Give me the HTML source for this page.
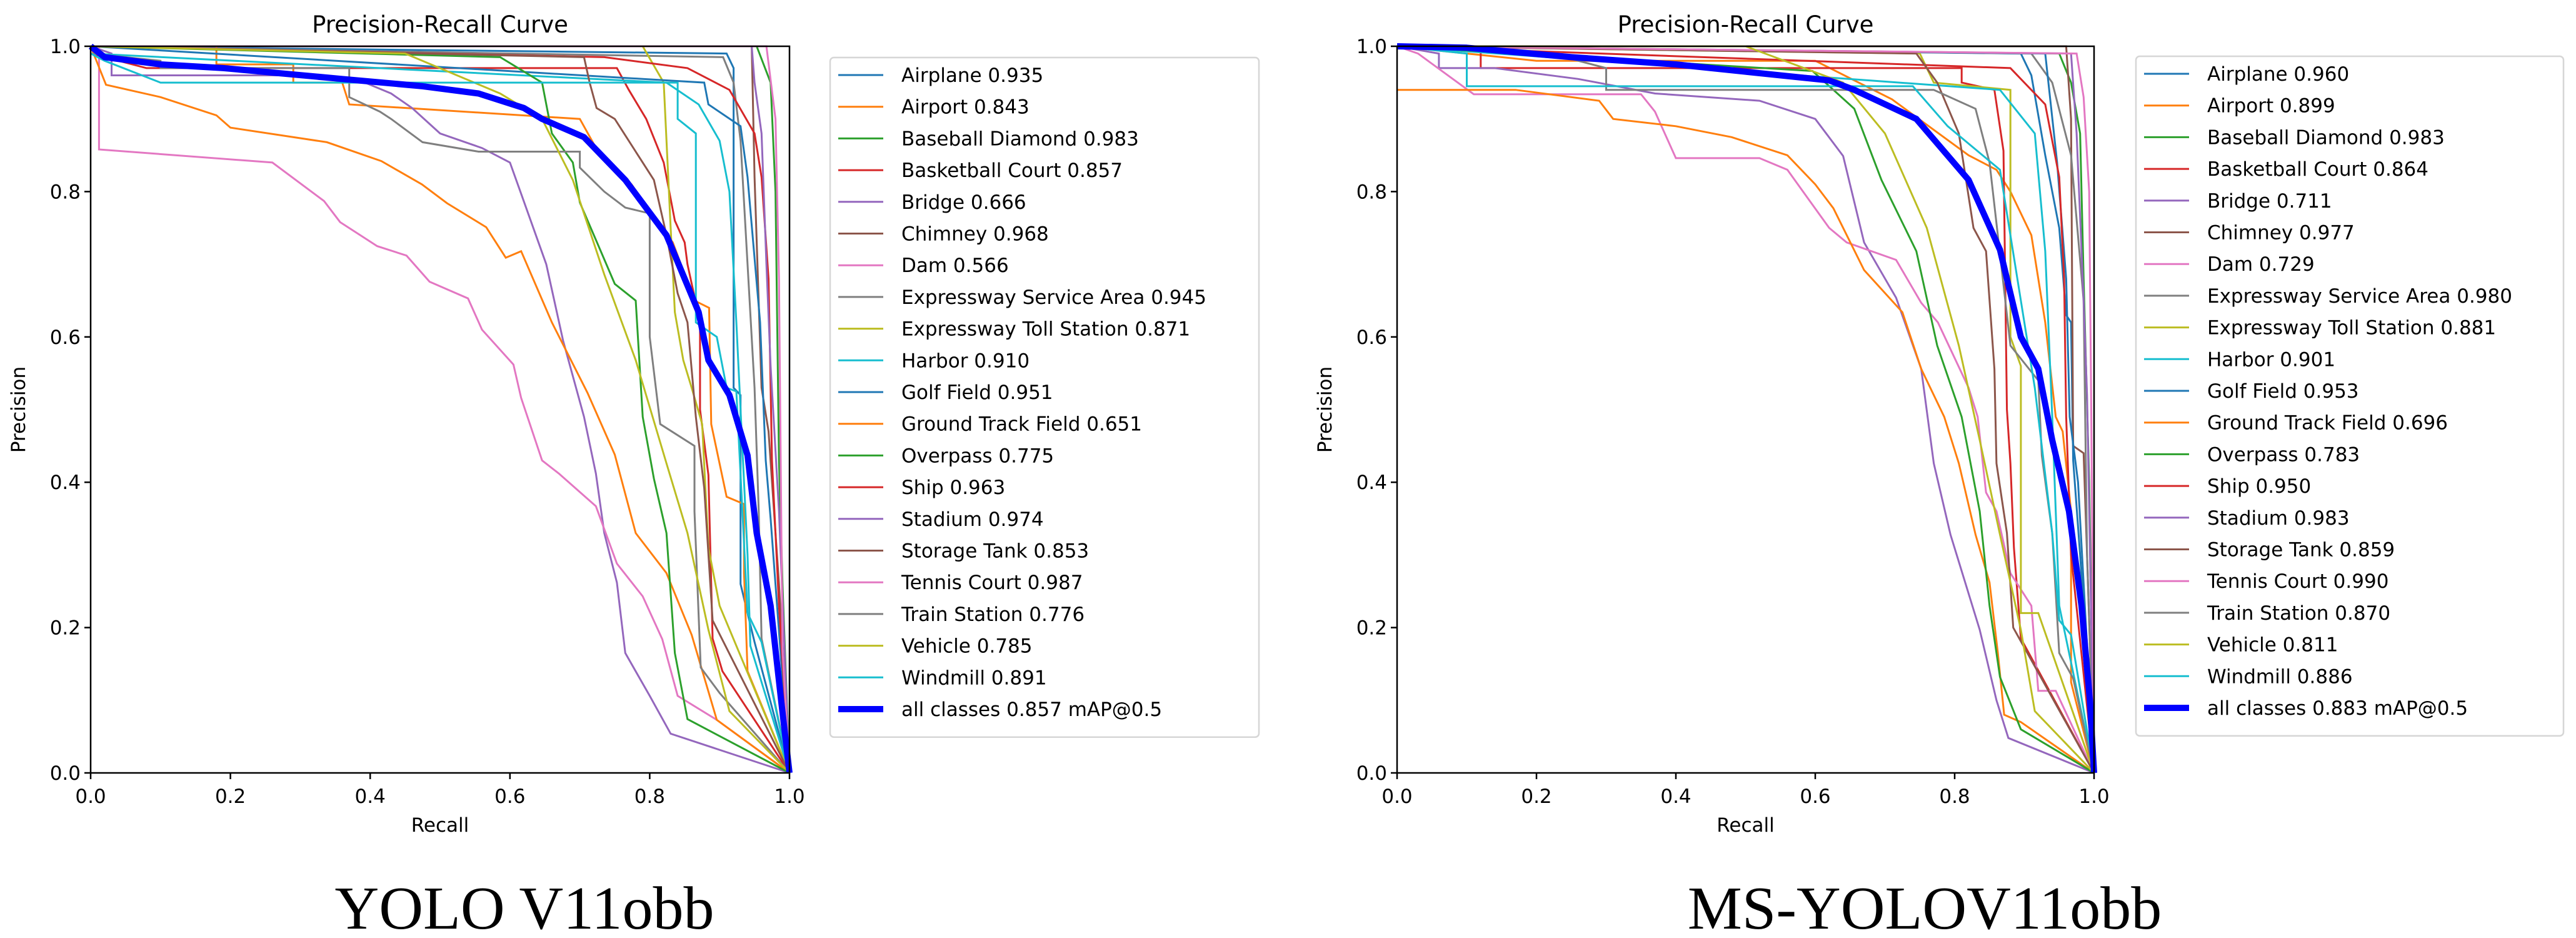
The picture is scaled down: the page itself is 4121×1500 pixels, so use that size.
<!DOCTYPE html>
<html><head><meta charset="utf-8"><style>
html,body{margin:0;padding:0;background:#fff}
svg{display:block}
text{font-family:"DejaVu Sans","Liberation Sans",sans-serif;fill:#000}
.cap{font-family:"Liberation Serif","DejaVu Serif",serif}
</style></head><body>
<svg id="fig" width="4121" height="1500" viewBox="0 0 4121 1500">
<rect width="4121" height="1500" fill="#fff"/>
<text class="cap" x="839" y="1485" font-size="98" text-anchor="middle">YOLO V11obb</text>
<text class="cap" x="3079" y="1485" font-size="98" text-anchor="middle">MS-YOLOV11obb</text>
</svg>
<script>
const names = ["Airplane","Airport","Baseball Diamond","Basketball Court","Bridge","Chimney","Dam","Expressway Service Area","Expressway Toll Station","Harbor","Golf Field","Ground Track Field","Overpass","Ship","Stadium","Storage Tank","Tennis Court","Train Station","Vehicle","Windmill"];
const colors = ["#1f77b4","#ff7f0e","#2ca02c","#d62728","#9467bd","#8c564b","#e377c2","#7f7f7f","#bcbd22","#17becf"];
const xTicks = ["0.0","0.2","0.4","0.6","0.8","1.0"];
const yTicks = ["0.0","0.2","0.4","0.6","0.8","1.0"];

const leftAP = [0.935,0.843,0.983,0.857,0.666,0.968,0.566,0.945,0.871,0.910,0.951,0.651,0.775,0.963,0.974,0.853,0.987,0.776,0.785,0.891];
const leftMAP = 0.857;
const rightAP = [0.960,0.899,0.983,0.864,0.711,0.977,0.729,0.980,0.881,0.901,0.953,0.696,0.783,0.950,0.983,0.859,0.990,0.870,0.811,0.886];
const rightMAP = 0.883;

// Left chart curves: recall knots / precision knots
const leftR = [
[0,0.91,0.92,0.92,0.93,0.93,0.95,1],
[0,0.18,0.18,0.29,0.29,0.36,0.37,0.7,0.726,0.774,0.81,0.833,0.864,0.885,0.888,0.91,0.935,0.935,0.94,1],
[0,0.953,0.973,0.98,0.985,0.99,1],
[0,0.08,0.753,0.77,0.795,0.82,0.836,0.85,0.854,0.872,0.872,0.884,0.89,0.904,1],
[0,0.03,0.03,0.29,0.38,0.43,0.46,0.5,0.56,0.6,0.616,0.652,0.676,0.706,0.723,0.735,0.753,0.765,0.8,0.83,1],
[0,0.946,0.95,0.96,0.97,0.985,1],
[0,0.012,0.012,0.26,0.334,0.357,0.41,0.452,0.485,0.54,0.56,0.605,0.616,0.646,0.67,0.723,0.753,0.79,0.818,0.84,0.896,1],
[0,0.905,0.92,0.93,0.94,0.95,0.956,0.96,1],
[0,0.79,0.82,0.83,0.836,0.848,0.86,0.875,0.884,0.9,1],
[0,0.824,0.87,0.9,0.914,0.924,0.94,0.944,1],
[0,0.878,0.884,0.93,0.94,0.958,0.966,0.973,1],
[0,0.022,0.1,0.18,0.2,0.338,0.416,0.474,0.51,0.566,0.594,0.616,0.66,0.711,0.75,0.78,0.824,0.86,0.896,1],
[0,0.586,0.646,0.66,0.69,0.7,0.73,0.75,0.78,0.79,0.806,0.824,0.836,0.854,1],
[0,0.735,0.854,0.914,0.95,0.96,0.97,0.975,0.985,1],
[0,0.946,0.95,0.96,0.967,0.973,0.985,1],
[0,0.706,0.714,0.724,0.75,0.78,0.806,0.824,0.84,0.854,0.866,0.878,0.89,1],
[0,0.967,0.98,0.985,0.99,1],
[0,0.1,0.1,0.37,0.37,0.414,0.43,0.475,0.555,0.7,0.7,0.735,0.765,0.8,0.8,0.815,0.864,0.864,0.873,0.9,1],
[0,0.45,0.586,0.646,0.69,0.735,0.78,0.824,0.854,0.884,0.914,1],
[0,0.02,0.1,0.84,0.84,0.866,0.866,0.896,0.91,0.924,0.94,0.96,1]];
const leftP = [
[1,0.99,0.97,0.53,0.52,0.26,0.18,0],
[1,1,0.975,0.975,0.95,0.95,0.92,0.9,0.855,0.81,0.76,0.73,0.65,0.64,0.48,0.38,0.37,0.275,0.14,0],
[1,1,0.95,0.8,0.43,0.26,0],
[0.99,0.97,0.97,0.94,0.9,0.84,0.76,0.73,0.7,0.62,0.5,0.41,0.185,0.14,0],
[1,0.99,0.96,0.96,0.955,0.935,0.915,0.88,0.86,0.84,0.797,0.7,0.595,0.49,0.412,0.33,0.262,0.165,0.106,0.054,0],
[1,1,0.82,0.53,0.47,0.26,0],
[1,1,0.858,0.84,0.787,0.758,0.725,0.712,0.676,0.653,0.61,0.562,0.516,0.43,0.412,0.367,0.288,0.243,0.184,0.106,0.073,0],
[1,0.985,0.95,0.87,0.7,0.53,0.36,0.185,0],
[1,1,0.95,0.75,0.634,0.568,0.53,0.48,0.31,0.23,0],
[0.99,0.95,0.92,0.87,0.8,0.62,0.3,0.175,0],
[1,0.95,0.92,0.89,0.82,0.62,0.43,0.35,0],
[1,0.947,0.93,0.905,0.888,0.868,0.842,0.81,0.784,0.751,0.709,0.718,0.62,0.523,0.438,0.33,0.275,0.19,0.073,0],
[1,0.985,0.95,0.88,0.84,0.785,0.718,0.673,0.65,0.49,0.405,0.33,0.165,0.074,0],
[1,0.985,0.97,0.94,0.88,0.82,0.68,0.43,0.23,0],
[1,1,0.95,0.88,0.7,0.56,0.36,0],
[1,0.985,0.95,0.915,0.9,0.855,0.816,0.74,0.66,0.62,0.49,0.392,0.21,0],
[1,1,0.9,0.68,0.17,0],
[0.99,0.98,0.97,0.97,0.93,0.91,0.9,0.868,0.855,0.855,0.833,0.8,0.778,0.77,0.6,0.48,0.45,0.36,0.145,0.11,0],
[1,0.99,0.935,0.9,0.816,0.686,0.568,0.426,0.33,0.197,0.085,0],
[0.99,0.98,0.95,0.95,0.9,0.88,0.62,0.6,0.53,0.525,0.22,0.18,0]];
const leftAllR = [0,0.02,0.1,0.19,0.36,0.475,0.555,0.62,0.646,0.706,0.765,0.824,0.87,0.884,0.914,0.94,0.953,0.973,0.988,1];
const leftAllP = [1,0.985,0.975,0.97,0.955,0.945,0.935,0.915,0.9,0.875,0.816,0.74,0.634,0.568,0.52,0.437,0.33,0.23,0.1,0];

// Right chart curves
const rightR = [
[0,0.895,0.91,0.93,0.95,0.96,0.967,0.97,0.98,1],
[0,0.2,0.6,0.71,0.82,0.86,0.88,0.91,0.93,0.945,0.955,0.967,0.967,1],
[0,0.95,0.967,0.98,0.985,0.993,1],
[0,0.12,0.12,0.81,0.81,0.857,0.87,0.875,0.88,0.885,0.895,1],
[0,0.06,0.06,0.14,0.26,0.37,0.52,0.6,0.64,0.67,0.716,0.752,0.77,0.794,0.836,0.86,0.877,1],
[0,0.96,0.967,0.97,0.985,0.99,1],
[0,0.03,0.11,0.35,0.37,0.4,0.52,0.56,0.59,0.62,0.645,0.716,0.752,0.776,0.82,0.833,0.845,0.86,0.88,0.91,0.92,0.945,1],
[0,0.91,0.94,0.967,0.985,0.99,1],
[0,0.75,0.77,0.88,0.88,0.895,0.895,0.92,1],
[0,0.865,0.915,0.93,0.94,0.95,1],
[0,0.93,0.947,0.96,0.965,0.977,1],
[0,0.17,0.29,0.31,0.4,0.48,0.56,0.6,0.626,0.67,0.725,0.752,0.785,0.806,0.83,0.85,0.862,0.871,0.895,1],
[0,0.596,0.656,0.695,0.745,0.775,0.81,0.836,0.85,0.865,0.895,1],
[0,0.88,0.93,0.95,0.957,0.96,0.967,1],
[0,0.967,0.975,0.985,0.99,1],
[0,0.745,0.775,0.806,0.827,0.845,0.857,0.86,0.875,0.884,1],
[0,0.975,0.985,0.993,0.996,1],
[0,0.22,0.3,0.3,0.77,0.83,0.85,0.88,0.92,0.925,0.94,0.95,0.97,1],
[0,0.5,0.64,0.7,0.76,0.806,0.836,0.865,0.895,0.915,1],
[0,0.1,0.1,0.74,0.79,0.865,0.875,0.895,0.915,0.94,0.95,0.967,1]];
const rightP = [
[1,0.99,0.96,0.85,0.75,0.63,0.62,0.43,0.3,0],
[1,0.98,0.98,0.927,0.85,0.83,0.8,0.74,0.62,0.49,0.47,0.36,0.125,0],
[1,0.99,0.95,0.88,0.68,0.4,0],
[1,1,0.97,0.97,0.95,0.94,0.856,0.5,0.426,0.31,0.185,0],
[1,0.99,0.97,0.97,0.955,0.935,0.925,0.9,0.849,0.73,0.654,0.556,0.426,0.328,0.197,0.1,0.048,0],
[1,1,0.9,0.45,0.44,0.3,0],
[1,0.99,0.934,0.934,0.91,0.846,0.846,0.83,0.79,0.75,0.73,0.706,0.647,0.62,0.53,0.49,0.386,0.36,0.275,0.23,0.113,0.113,0],
[1,0.99,0.95,0.85,0.65,0.3,0],
[1,0.99,0.95,0.94,0.6,0.56,0.22,0.22,0],
[1,0.94,0.88,0.718,0.49,0.23,0],
[1,0.99,0.84,0.68,0.49,0.4,0],
[0.94,0.94,0.925,0.9,0.89,0.875,0.85,0.81,0.777,0.692,0.634,0.556,0.49,0.426,0.328,0.262,0.165,0.08,0.07,0],
[1,0.966,0.914,0.816,0.718,0.588,0.49,0.36,0.23,0.132,0.06,0],
[1,0.97,0.92,0.82,0.68,0.49,0.3,0],
[1,0.99,0.88,0.65,0.52,0],
[1,0.99,0.95,0.88,0.75,0.718,0.556,0.426,0.33,0.2,0],
[1,0.99,0.93,0.8,0.5,0],
[1,0.99,0.97,0.94,0.94,0.914,0.84,0.588,0.54,0.437,0.33,0.165,0.13,0],
[1,1,0.95,0.88,0.75,0.588,0.458,0.328,0.197,0.085,0],
[1,0.99,0.945,0.945,0.89,0.83,0.77,0.65,0.53,0.33,0.21,0.19,0]];
const rightAllR = [0,0.1,0.25,0.4,0.5,0.62,0.656,0.745,0.82,0.865,0.895,0.92,0.94,0.964,0.982,0.994,1];
const rightAllP = [1,0.998,0.985,0.975,0.965,0.953,0.94,0.9,0.816,0.72,0.6,0.556,0.458,0.36,0.23,0.1,0];

const NS = "http://www.w3.org/2000/svg";
const svg = document.getElementById("fig");
function mk(tag, attrs, parent){ const e=document.createElementNS(NS,tag); for(const k in attrs) e.setAttribute(k,attrs[k]); (parent||svg).appendChild(e); return e; }

function drawChart(prefix, x0, x1, y0, y1, R, P, allR, allP, ap, map, legX, legY){
  const sx = r => x0 + r*(x1-x0);
  const sy = p => y0 - p*(y0-y1);
  const g = mk("g",{});
  
  
  for(let i=0;i<R.length;i++){
    const pts = R[i].map((r,j)=>sx(r).toFixed(1)+","+sy(P[i][j]).toFixed(1)).join(" ");
    const pl = mk("polyline",{points:pts,fill:"none",stroke:colors[i%10],"stroke-width":3,"stroke-linejoin":"miter"},g);
    
    
  }
  const allPts = allR.map((r,j)=>sx(r).toFixed(1)+","+sy(allP[j]).toFixed(1)).join(" ");
  const al = mk("polyline",{points:allPts,fill:"none",stroke:"#0000ff","stroke-width":10,"stroke-linejoin":"round"},g);
  
  
  const fr = mk("rect",{x:x0,y:y1,width:x1-x0,height:y0-y1,fill:"none",stroke:"#000","stroke-width":2.5},g);
  
  
  xTicks.forEach((t,i)=>{
    const v=i/(xTicks.length-1);
    mk("line",{x1:sx(v),x2:sx(v),y1:y0,y2:y0+10,stroke:"#000","stroke-width":2.5},g);
    const tx = mk("text",{x:sx(v),y:y0+48,"font-size":31,"text-anchor":"middle"},g);
    tx.textContent=t;
    
    
  });
  yTicks.forEach((t,i)=>{
    const v=i/(yTicks.length-1);
    mk("line",{x1:x0-10,x2:x0,y1:sy(v),y2:sy(v),stroke:"#000","stroke-width":2.5},g);
    const ty = mk("text",{x:x0-16,y:sy(v)+11,"font-size":31,"text-anchor":"end"},g);
    ty.textContent=t;
    
    
  });
  const title = mk("text",{x:(x0+x1)/2,y:y1-22,"font-size":37,"text-anchor":"middle"},g);
  title.textContent="Precision-Recall Curve";
  
  
  const xl = mk("text",{x:(x0+x1)/2,y:y0+94,"font-size":31,"text-anchor":"middle"},g);
  xl.textContent="Recall";
  
  
  const yx = x0-105, yc=(y0+y1)/2;
  const yl = mk("text",{x:yx,y:yc,"font-size":31,"text-anchor":"middle",transform:`rotate(-90 ${yx} ${yc})`},g);
  yl.textContent="Precision";
  
  
  const n = names.length+1, step=50.7;
  const lg = mk("g",{},g);
  
  
  mk("rect",{x:legX,y:legY,width:legX===1328?686:684,height:step*n+22,rx:6,fill:"#fff",stroke:"#d6d6d6","stroke-width":2.5},lg);
  for(let i=0;i<n;i++){
    const cy = legY+28+i*step;
    const isAll = i===names.length;
    mk("line",{x1:legX+13,x2:legX+85,y1:cy,y2:cy,stroke:isAll?"#0000ff":colors[i%10],"stroke-width":isAll?10:3},lg);
    const t = mk("text",{x:legX+114,y:cy+11,"font-size":31},lg);
    t.textContent = isAll ? `all classes ${map.toFixed(3)} mAP@0.5` : `${names[i]} ${ap[i].toFixed(3)}`;
    
    
  }
}
drawChart("left",145,1263,1236,74,leftR,leftP,leftAllR,leftAllP,leftAP,leftMAP,1328,92);
drawChart("right",2235,3350,1236,74,rightR,rightP,rightAllR,rightAllP,rightAP,rightMAP,3417,90);
</script>
</body></html>
